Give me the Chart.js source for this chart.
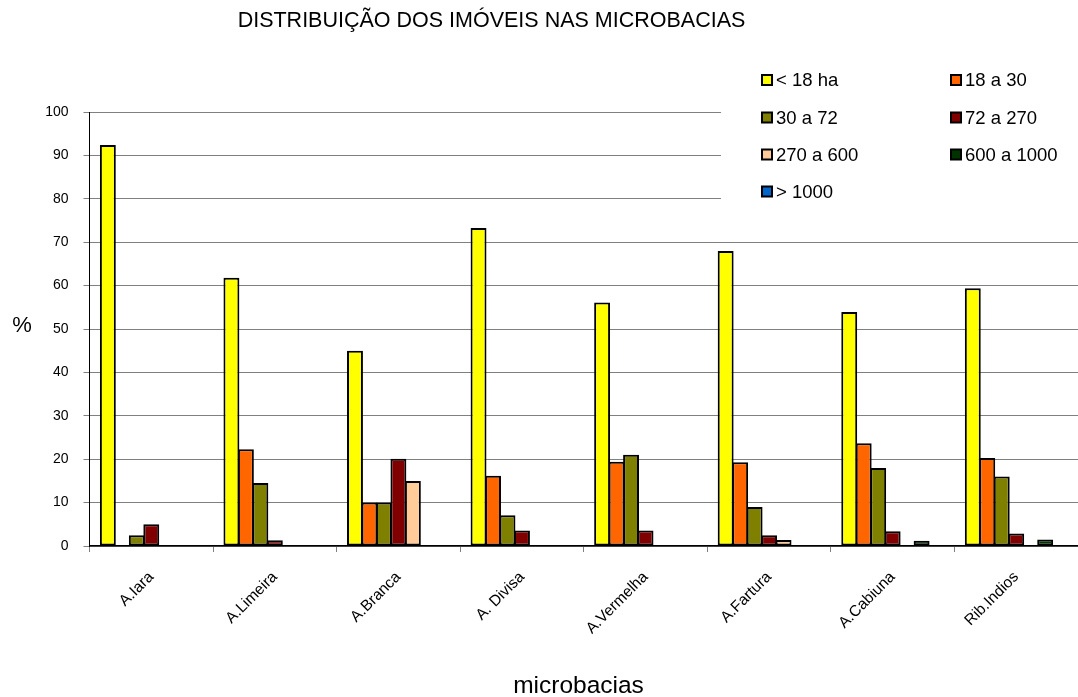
<!DOCTYPE html>
<html>
<head>
<meta charset="utf-8">
<title>Distribuição dos imóveis nas microbacias</title>
<script src="https://cdn.jsdelivr.net/npm/chart.js@4/dist/chart.umd.min.js"></script>
<style>
  html, body { margin: 0; padding: 0; background: #ffffff; }
  #wrap { width: 1078px; height: 697px; position: relative; }
</style>
</head>
<body>
<div id="wrap"><canvas id="chart" width="1078" height="697"></canvas></div>
<script>
// Microbacias (categories)
const microbacias = ['A.Iara', 'A.Limeira', 'A.Branca', 'A. Divisa', 'A.Vermelha', 'A.Fartura', 'A.Cabiuna', 'Rib.Indios'];

// Property-size classes
const classes = ['< 18 ha', '18 a 30', '30 a 72', '72 a 270', '270 a 600', '600 a 1000', '> 1000'];

// Share of properties (%) in each class, per microbacia
const menos18   = [92.4, 61.8, 45.0, 73.3, 56.1, 68.0, 53.9, 59.4];
const de18a30   = [0,    22.3, 10.0, 16.2, 19.4, 19.3, 23.7, 20.3];
const de30a72   = [2.5,  14.5, 10.0,  7.1, 21.0,  9.0, 18.0, 16.0];
const de72a270  = [5.0,   1.3, 20.1,  3.6,  3.6,  2.5,  3.4,  2.9];
const de270a600 = [0,     0,   15.0,  0,    0,    1.4,  0,    0  ];
const de600a1000= [0,     0,    0,    0,    0,    0,    1.2,  1.5];
const mais1000  = [0,     0,    0,    0,    0,    0,    0,    0  ];

// Y axis tick values
const yTicks = [0, 10, 20, 30, 40, 50, 60, 70, 80, 90, 100];

const seriesValues = [menos18, de18a30, de30a72, de72a270, de270a600, de600a1000, mais1000];
const seriesColors = ['#FFFF00', '#FF6600', '#808000', '#800000', '#FFCC99', '#003300', '#0066CC'];

const FONT = '"Liberation Sans", Arial, Helvetica, sans-serif';

// bars widened slightly so neighbouring outlines share one edge
const datasets = classes.map((name, i) => ({
  label: name,
  data: seriesValues[i],
  backgroundColor: seriesColors[i],
  borderColor: '#000000',
  borderWidth: 2,
  borderSkipped: false,
  barPercentage: 1.1,
  categoryPercentage: 0.82
}));

// Title, axis titles and the two-column legend
const decorations = {
  id: 'decorations',
  afterDraw(chart) {
    const ctx = chart.ctx;
    ctx.save();

    // legend panel sits over the top-right of the plot
    ctx.fillStyle = '#ffffff';
    ctx.fillRect(721, 56, 357, 160);

    ctx.fillStyle = '#000000';
    ctx.textBaseline = 'middle';

    ctx.font = '21.5px ' + FONT;
    ctx.textAlign = 'center';
    ctx.fillText('DISTRIBUIÇÃO DOS IMÓVEIS NAS MICROBACIAS', 491.5, 21.5);

    ctx.font = '22px ' + FONT;
    ctx.fillText('%', 22, 326);

    ctx.font = '24.5px ' + FONT;
    ctx.fillText('microbacias', 578.5, 686);

    // legend entries
    const colX = [762, 951];
    const rowY = [80, 117.5, 154.5, 191.5];
    ctx.font = '18.5px ' + FONT;
    ctx.textAlign = 'left';
    chart.data.datasets.forEach((ds, i) => {
      const x = colX[i % 2];
      const y = rowY[Math.floor(i / 2)];
      ctx.fillStyle = ds.backgroundColor;
      ctx.fillRect(x, y - 5, 10, 10);
      ctx.lineWidth = 2;
      ctx.strokeStyle = '#000000';
      ctx.strokeRect(x, y - 5, 10, 10);
      ctx.fillStyle = '#000000';
      ctx.fillText(ds.label, x + 14, y + 1);
    });

    ctx.restore();
  }
};

new Chart(document.getElementById('chart'), {
  type: 'bar',
  data: { labels: microbacias, datasets },
  plugins: [decorations],
  options: {
    responsive: false,
    animation: false,
    layout: { padding: { top: 112, left: 0, right: -7, bottom: 0 } },
    plugins: {
      legend: { display: false },
      title: { display: false },
      tooltip: { enabled: false }
    },
    scales: {
      x: {
        offset: true,
        grid: {
          offset: true,
          drawOnChartArea: false,
          drawTicks: true,
          tickLength: 6,
          color: '#808080'
        },
        border: { color: '#000000', width: 1.5 },
        ticks: {
          color: '#000000',
          font: { family: FONT, size: 15.5 },
          minRotation: 45,
          maxRotation: 45,
          autoSkip: false,
          padding: 16
        },
        afterFit(scale) { scale.height = 151; }
      },
      y: {
        min: 0,
        max: 100,
        afterBuildTicks(scale) { scale.ticks = yTicks.map(v => ({ value: v })); },
        grid: {
          color: '#808080',
          lineWidth: 1,
          drawTicks: true,
          tickLength: 6,
          tickColor: '#808080'
        },
        border: { color: '#000000', width: 1 },
        ticks: {
          color: '#000000',
          font: { family: FONT, size: 14 },
          padding: 15
        },
        afterFit(scale) { scale.width = 89.5; }
      }
    }
  }
});
</script>
</body>
</html>
